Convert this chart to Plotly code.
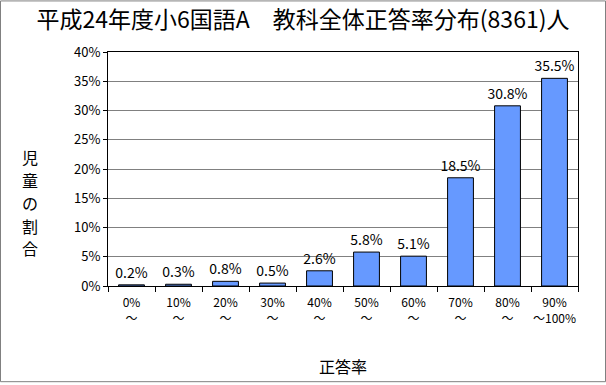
import plotly.graph_objects as go

categories = ["0%<br>～", "10%<br>～", "20%<br>～", "30%<br>～", "40%<br>～",
              "50%<br>～", "60%<br>～", "70%<br>～", "80%<br>～", "90%<br>～100%"]
values = [0.2, 0.3, 0.8, 0.5, 2.6, 5.8, 5.1, 18.5, 30.8, 35.5]
labels = [f"{v:.1f}%" for v in values]
yticks = [0, 5, 10, 15, 20, 25, 30, 35, 40]
yticklabels = [f"{v}%" for v in yticks]
ytitle_chars = ["児", "童", "の", "割", "合"]

FONT = "Noto Sans CJK JP"
L, R, T, B = 108, 28, 52, 97
W, H = 606, 385
pw, ph = W - L - R, H - T - B

fig = go.Figure(go.Bar(
    x=categories, y=values, text=labels, textposition="outside",
    textfont=dict(family=FONT, size=14, color="black"),
    marker=dict(color="#6699FF", line=dict(color="black", width=1)),
    cliponaxis=False, constraintext="none",
))

annotations = []
for i, ch in enumerate(ytitle_chars):
    py = 158 + 23 * i
    annotations.append(dict(text=ch, xref="paper", yref="paper",
                            x=(30 - L) / pw, y=(288 - py) / ph,
                            xanchor="center", yanchor="middle", showarrow=False,
                            font=dict(size=16, family=FONT)))

fig.update_layout(
    width=W, height=H,
    margin=dict(l=L, r=R, t=T, b=B),
    paper_bgcolor="white", plot_bgcolor="white",
    bargap=0.45, showlegend=False,
    font=dict(family=FONT, color="black"),
    title=dict(text="平成24年度小6国語A　教科全体正答率分布(8361)人",
               x=0.5, xanchor="center", y=1 - 20 / H, yanchor="middle",
               font=dict(size=23, color="black", family=FONT)),
    xaxis=dict(showline=True, mirror=True, linecolor="black", linewidth=1,
               ticks="outside", tickson="boundaries", ticklen=5, tickcolor="black",
               tickangle=0, ticklabelstandoff=6,
               tickfont=dict(size=12, family=FONT), showgrid=False,
               title=dict(text="正答率", font=dict(size=16, family=FONT), standoff=36)),
    yaxis=dict(range=[0, 40], tickvals=yticks, ticktext=yticklabels,
               showline=True, mirror=True, linecolor="black", linewidth=1,
               ticks="outside", ticklen=4, tickcolor="black",
               tickfont=dict(size=13, family=FONT),
               showgrid=True, gridcolor="#808080", gridwidth=1, zeroline=False),
    annotations=annotations,
    shapes=[dict(type="rect", xref="paper", yref="paper",
                 x0=(0.5 - L) / pw, x1=(W - 0.5 - L) / pw,
                 y0=(288 - (H - 0.5)) / ph, y1=(288 - 0.5) / ph,
                 line=dict(color="#808080", width=1))],
)

fig.write_html("out.html", config={"displayModeBar": False},
               post_script="document.body.style.margin='0px';document.body.style.overflow='hidden';")
